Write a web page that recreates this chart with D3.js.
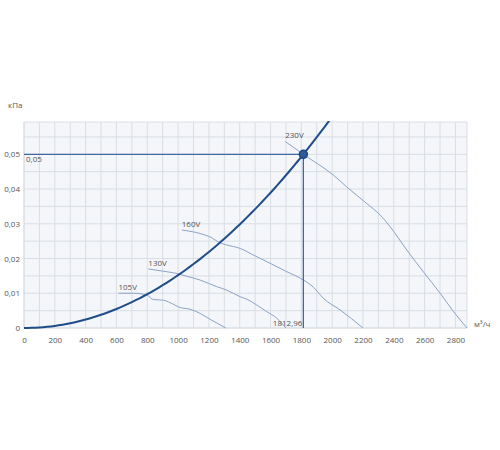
<!DOCTYPE html>
<html>
<head>
<meta charset="utf-8">
<script src="https://cdn.jsdelivr.net/npm/d3@7"></script>
<style>
  body { margin: 0; background: #fff; }
  text { font-family: "Open Sans", sans-serif; font-size: 8px; fill: #555; }
</style>
</head>
<body>
<svg id="chart" width="500" height="450"></svg>
<script>
// fan curves: [m3/h, kPa]
var curve230 = [[1695, 0.0537], [1813, 0.05], [2008, 0.044], [2095, 0.0406], [2225, 0.0358], [2312, 0.0325],
    [2377, 0.0291], [2485, 0.0224], [2593, 0.0161], [2701, 0.0100], [2788, 0.0047], [2875, 0]];
var curve160 = [[1024, 0.0282], [1143, 0.0272], [1208, 0.0262], [1273, 0.0245], [1316, 0.0239], [1403, 0.0229],
    [1489, 0.021], [1576, 0.0191], [1706, 0.0162], [1814, 0.0138], [1879, 0.0117], [1944, 0.0085],
    [2052, 0.0052], [2200, 0]];
var curve130 = [[807, 0.017], [927, 0.0162], [970, 0.0159], [1056, 0.0149], [1143, 0.0138], [1251, 0.0119],
    [1316, 0.0109], [1403, 0.009], [1446, 0.0083], [1511, 0.0066], [1576, 0.0047], [1641, 0.0028], [1700, 0]];
var curve105 = [[613, 0.01], [710, 0.01], [797, 0.0095], [840, 0.0082], [905, 0.008], [948, 0.0073],
    [1013, 0.0059], [1078, 0.0054], [1143, 0.0042], [1208, 0.0025], [1310, 0]];
var fanNames = ["230V", "160V", "130V", "105V"];
var fanCurves = [curve230, curve160, curve130, curve105];

var opFlow = 1812.96, opPressure = 0.05;
var xTicks = [0, 200, 400, 600, 800, 1000, 1200, 1400, 1600, 1800, 2000, 2200, 2400, 2600, 2800];
var yTicks = [0, 0.01, 0.02, 0.03, 0.04, 0.05];

var plotLeft = 24, plotRight = 467, plotTop = 122, plotBottom = 328;
var svg = d3.select("#chart");

var x = d3.scaleLinear().domain([0, 2875]).range([plotLeft, plotRight]);
var y = d3.scaleLinear().domain([0, 0.0593]).range([plotBottom, plotTop]);

var fmt = function(v) { return v === 0 ? "0" : d3.format(".2f")(v).replace(".", ","); };

// plot background
svg.append("rect")
    .attr("x", plotLeft).attr("y", plotTop)
    .attr("width", plotRight - plotLeft).attr("height", plotBottom - plotTop)
    .style("fill", "#f4f6f9");

// grid, every 100 m3/h and every 0.005 kPa
var grid = svg.append("g").attr("class", "grid");
grid.selectAll("line.v")
    .data(d3.range(0, 2876, 100))
    .enter().append("line")
    .attr("class", "v")
    .attr("x1", function(d) { return x(d); }).attr("x2", function(d) { return x(d); })
    .attr("y1", plotTop).attr("y2", plotBottom)
    .style("stroke", "#d9dee5").style("stroke-width", 1);
grid.selectAll("line.h")
    .data(d3.range(0, 0.0595, 0.005))
    .enter().append("line")
    .attr("class", "h")
    .attr("x1", plotLeft).attr("x2", plotRight)
    .attr("y1", function(d) { return y(d); }).attr("y2", function(d) { return y(d); })
    .style("stroke", "#d9dee5").style("stroke-width", 1);
grid.append("rect")
    .attr("x", plotLeft).attr("y", plotTop)
    .attr("width", plotRight - plotLeft).attr("height", plotBottom - plotTop)
    .style("fill", "none").style("stroke", "#d9dee5");

// axes
svg.append("g")
    .attr("transform", "translate(0," + plotBottom + ")")
    .call(d3.axisBottom(x).tickValues(xTicks).tickSize(0).tickPadding(9).tickFormat(d3.format("d")));
svg.append("g")
    .attr("transform", "translate(" + plotLeft + ",0)")
    .call(d3.axisLeft(y).tickValues(yTicks).tickSize(0).tickPadding(4).tickFormat(fmt));
svg.selectAll(".domain").remove();
svg.selectAll(".tick text").style("font-family", "Open Sans, sans-serif").style("font-size", "8px").style("fill", "#555");

svg.append("text").attr("x", 8).attr("y", 108).text("кПа");
svg.append("text").attr("x", 474).attr("y", 327).text("м³/ч");

svg.append("clipPath").attr("id", "plotclip")
    .append("rect").attr("x", plotLeft).attr("y", plotTop - 1)
    .attr("width", plotRight - plotLeft).attr("height", plotBottom - plotTop + 2);

var line = d3.line()
    .x(function(d) { return x(d[0]); })
    .y(function(d) { return y(d[1]); })
    .curve(d3.curveMonotoneX);

// fan curves
fanCurves.forEach(function(c, i) {
    svg.append("path")
        .datum(c)
        .attr("d", line)
        .style("fill", "none")
        .style("stroke", "#8ba3c4")
        .style("stroke-width", 1);
    svg.append("text")
        .attr("x", x(c[0][0]))
        .attr("y", y(c[0][1]) - 3)
        .text(fanNames[i]);
});

// operating point crosshair
svg.append("line")
    .attr("x1", plotLeft).attr("x2", x(opFlow))
    .attr("y1", y(opPressure)).attr("y2", y(opPressure))
    .style("stroke", "#3f67a0").style("stroke-width", 1.3);
svg.append("line")
    .attr("x1", x(opFlow)).attr("x2", x(opFlow))
    .attr("y1", y(opPressure)).attr("y2", plotBottom)
    .style("stroke", "#3f67a0").style("stroke-width", 1.3);
svg.append("text").attr("x", plotLeft + 2).attr("y", y(opPressure) + 8).text("0,05");
svg.append("text").attr("x", x(opFlow) - 1).attr("y", plotBottom - 2)
    .style("text-anchor", "end").text("1812,96");

// system curve: pressure grows with the square of the flow through the operating point
var k = opPressure / (opFlow * opFlow);
var sysFlows = d3.range(0, 2101, 25);
svg.append("path")
    .datum(sysFlows)
    .attr("clip-path", "url(#plotclip)")
    .attr("d", d3.line()
        .x(function(d) { return x(d); })
        .y(function(d) { return y(k * d * d); }))
    .style("fill", "none")
    .style("stroke", "#1f4d89")
    .style("stroke-width", 2);

svg.append("circle")
    .attr("cx", x(opFlow)).attr("cy", y(opPressure)).attr("r", 4)
    .style("fill", "#2f5c99")
    .style("stroke", "#1d4883")
    .style("stroke-width", 1.5);
</script>
</body>
</html>
